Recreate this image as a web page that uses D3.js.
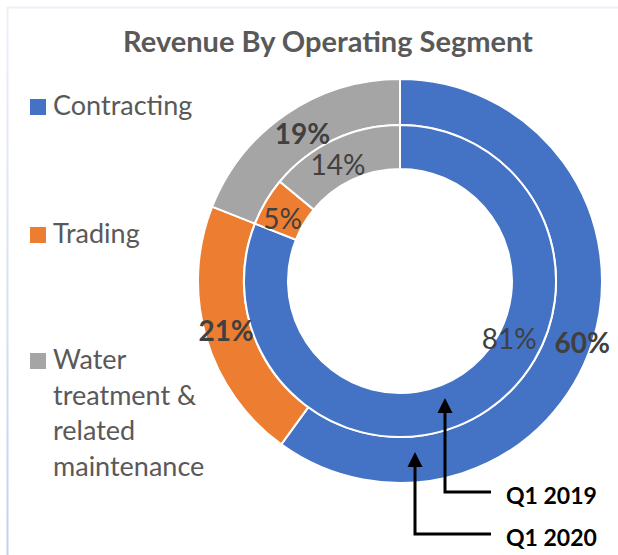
<!DOCTYPE html>
<html>
<head>
<meta charset="utf-8">
<script src="https://cdn.jsdelivr.net/npm/d3@7"></script>
<style>
  body { margin: 0; background: white; }
  text { font-family: Lato, "Open Sans", sans-serif; }
</style>
</head>
<body>
<div id="vis"></div>
<script>
var width = 618;
var height = 555;

// data
var segments = ["Contracting", "Trading", "Water treatment & related maintenance"];
var colors = ["#4472C4", "#ED7D31", "#A5A5A5"];
var q1_2020 = [60, 21, 19];   // outer ring
var q1_2019 = [81, 5, 14];    // inner ring
var legendLines = [["Contracting"], ["Trading"], ["Water", "treatment &", "related", "maintenance"]];

var cx = 400, cy = 281;

var svg = d3.select("#vis")
  .append("svg")
  .attr("width", width)
  .attr("height", height)
  .style("background-color", "white");

// faint chart frame
var grad = svg.append("defs").append("linearGradient")
  .attr("id", "frameGrad").attr("x1", 0).attr("y1", 0).attr("x2", 0).attr("y2", 1);
grad.append("stop").attr("offset", "0%").attr("stop-color", "#eef0f8");
grad.append("stop").attr("offset", "100%").attr("stop-color", "#c3d0ec");
svg.append("line")
  .attr("x1", 7).attr("x2", width).attr("y1", 7.5).attr("y2", 7.5)
  .attr("stroke", "#eef0f8").attr("stroke-width", 2);
svg.append("rect")
  .attr("x", 6.5).attr("y", 7).attr("width", 2).attr("height", height - 7)
  .attr("fill", "url(#frameGrad)");

// title
svg.append("text")
  .attr("x", 328).attr("y", 52)
  .attr("text-anchor", "middle")
  .style("font-size", "29px")
  .style("font-weight", "bold")
  .style("fill", "#595959")
  .text("Revenue By Operating Segment");

// rings
var pie = d3.pie().sort(null);
var outerArc = d3.arc().innerRadius(156).outerRadius(202);
var innerArc = d3.arc().innerRadius(112).outerRadius(156);

var g = svg.append("g").attr("transform", `translate(${cx}, ${cy})`);

function drawRing(values, arc, cls) {
  g.selectAll("path." + cls)
    .data(pie(values))
    .join("path")
    .attr("class", cls)
    .attr("d", arc)
    .attr("fill", (d, i) => colors[i])
    .attr("stroke", "white")
    .attr("stroke-width", 2);
}
drawRing(q1_2020, outerArc, "outer");
drawRing(q1_2019, innerArc, "inner");

// data labels (two were dragged by hand in the original)
var nudgeOuter = [[12, 7], [-2, 0], [3, 1]];
var nudgeInner = [[34, -53], [-2, 6], [-5, 5]];

g.selectAll("text.outerLabel")
  .data(pie(q1_2020))
  .join("text")
  .attr("class", "outerLabel")
  .attr("x", (d, i) => outerArc.centroid(d)[0] + nudgeOuter[i][0])
  .attr("y", (d, i) => outerArc.centroid(d)[1] + nudgeOuter[i][1])
  .attr("dy", "0.36em")
  .attr("text-anchor", "middle")
  .style("font-size", "28px")
  .style("font-weight", "bold")
  .style("fill", "#404040")
  .text(d => d.data + "%");

g.selectAll("text.innerLabel")
  .data(pie(q1_2019))
  .join("text")
  .attr("class", "innerLabel")
  .attr("x", (d, i) => innerArc.centroid(d)[0] + nudgeInner[i][0])
  .attr("y", (d, i) => innerArc.centroid(d)[1] + nudgeInner[i][1])
  .attr("dy", "0.36em")
  .attr("text-anchor", "middle")
  .style("font-size", "28px")
  .style("fill", "#404040")
  .text(d => d.data + "%");

// legend
var legendTop = [99, 227, 353];
var legend = svg.selectAll(".legendItem")
  .data(segments)
  .join("g")
  .attr("class", "legendItem")
  .attr("transform", (d, i) => `translate(30, ${legendTop[i]})`);

legend.append("rect")
  .attr("width", 16).attr("height", 16)
  .attr("fill", (d, i) => colors[i]);

legend.append("text")
  .attr("x", 23).attr("y", 16)
  .style("font-size", "27px")
  .style("fill", "#595959")
  .selectAll("tspan")
  .data((d, i) => legendLines[i])
  .join("tspan")
  .attr("x", 23)
  .attr("dy", (d, j) => j === 0 ? 0 : 35.7)
  .text(d => d);

// arrows pointing at the rings
var arrows = [
  { label: "Q1 2019", x: cx + 45, tip: cy + 117, bottom: 492 },
  { label: "Q1 2020", x: cx + 15, tip: cy + 171, bottom: 534 }
];

var arrowG = svg.selectAll(".arrow")
  .data(arrows)
  .join("g")
  .attr("class", "arrow");

arrowG.append("path")
  .attr("d", d => `M${d.x},${d.tip + 12} L${d.x},${d.bottom} L491,${d.bottom}`)
  .attr("fill", "none")
  .attr("stroke", "black")
  .attr("stroke-width", 3);

arrowG.append("path")
  .attr("d", d => `M${d.x},${d.tip} L${d.x - 7.5},${d.tip + 15} L${d.x + 7.5},${d.tip + 15} Z`)
  .attr("fill", "black");

arrowG.append("text")
  .attr("x", 506)
  .attr("y", d => d.bottom + 12)
  .style("font-size", "23px")
  .style("font-weight", "bold")
  .style("fill", "black")
  .text(d => d.label);
</script>
</body>
</html>
